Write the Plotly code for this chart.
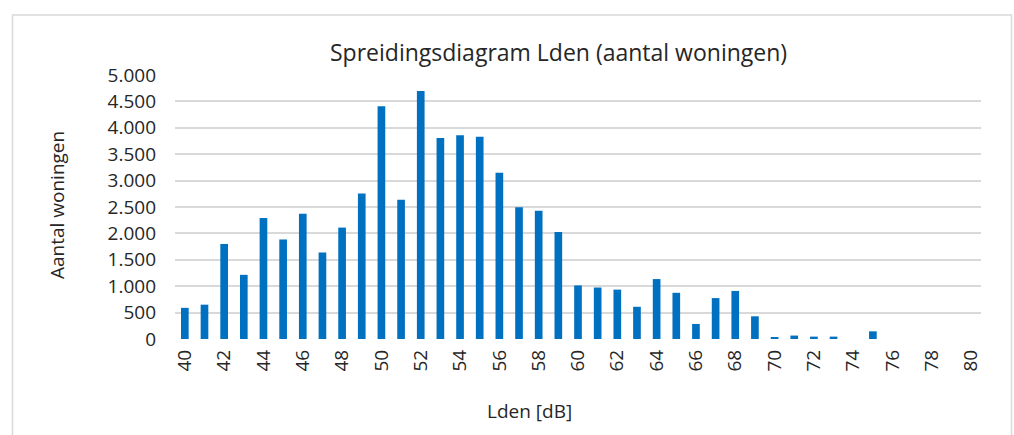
import plotly.graph_objects as go

lden = list(range(40, 81))
woningen = [590, 650, 1800, 1215, 2290, 1885, 2370, 1640, 2110, 2755,
            4410, 2635, 4695, 3805, 3860, 3830, 3150, 2495, 2430, 2025,
            1015, 975, 935, 610, 1135, 875, 285, 775, 910, 430,
            25, 65, 45, 45, 0, 145, 0, 0, 0, 0, 0]
tick_vals = list(range(40, 81, 2))
tick_text = [str(v) for v in tick_vals]
y_ticks = list(range(0, 5001, 500))

W, H = 1014, 435
L, R, T, B = 175, 33, 75, 96
pw, ph = W - L - R, H - T - B

def px(x):
    return (x - L) / pw

def py(y):
    return (H - B - y) / ph

FONT = "Open Sans"
TXT = "#262626"

fig = go.Figure(go.Bar(
    x=lden, y=woningen, width=0.39,
    marker=dict(color="#0070c0", line=dict(width=0)),
))

fig.update_layout(
    width=W, height=H,
    margin=dict(l=L, r=R, t=T, b=B),
    paper_bgcolor="white", plot_bgcolor="white",
    separators=",.",
    showlegend=False,
    font=dict(family=FONT, color=TXT, size=19),
    xaxis=dict(
        range=[39.5, 80.5], tickvals=tick_vals, ticktext=tick_text,
        tickangle=-90, showgrid=False, zeroline=False, showline=False,
        ticks="", ticklabelstandoff=6, tickfont=dict(size=19),
    ),
    yaxis=dict(
        range=[0, 5000], tickvals=y_ticks, tickformat=",d",
        showgrid=True, gridcolor="#d9d9d9", gridwidth=1.5,
        zeroline=False, showline=False, ticks="",
        ticklabelstandoff=18, tickfont=dict(size=19),
    ),
    shapes=[dict(
        type="rect", xref="paper", yref="paper",
        x0=px(12.5), x1=px(1011.5), y0=py(445), y1=py(15),
        line=dict(color="#d9d9d9", width=1.5), fillcolor="rgba(0,0,0,0)",
        layer="below",
    )],
    annotations=[
        dict(text="Spreidingsdiagram Lden (aantal woningen)",
             xref="paper", yref="paper", x=px(558), y=py(52),
             xanchor="center", yanchor="middle", showarrow=False,
             font=dict(size=23, family=FONT, color=TXT)),
        dict(text="Aantal woningen", textangle=-90,
             xref="paper", yref="paper", x=px(57), y=py(205),
             xanchor="center", yanchor="middle", showarrow=False,
             font=dict(size=19, family=FONT, color=TXT)),
        dict(text="Lden [dB]",
             xref="paper", yref="paper", x=px(529), y=py(411),
             xanchor="center", yanchor="middle", showarrow=False,
             font=dict(size=19, family=FONT, color=TXT)),
    ],
)

fig.write_html(
    "out.html",
    config={"displayModeBar": False},
    post_script="document.body.style.margin='0';document.body.style.overflow='hidden';",
)
